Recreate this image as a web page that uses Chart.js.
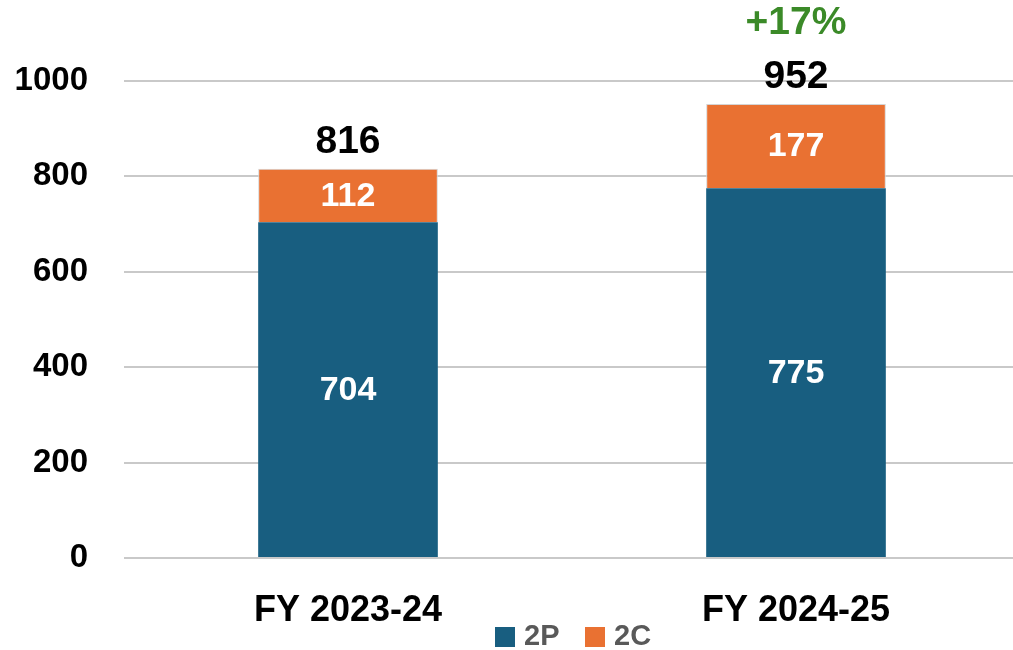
<!DOCTYPE html>
<html>
<head>
<meta charset="utf-8">
<script src="https://cdn.jsdelivr.net/npm/chart.js@4.4.1/dist/chart.umd.min.js"></script>
<style>
html,body{margin:0;padding:0;background:#fff;overflow:hidden;}
#wrap{width:1013px;height:650px;position:relative;overflow:hidden;}
</style>
</head>
<body>
<div id="wrap"><canvas id="c" width="1020" height="650"></canvas></div>
<script>
const categories = ['FY 2023-24', 'FY 2024-25'];
const seriesNames = ['2P', '2C'];
const values2P = [704, 775];
const values2C = [112, 177];
const yTicks = [0, 200, 400, 600, 800, 1000];

const FONT = "'Liberation Sans', Arial, sans-serif";
const BLUE = '#185E80';
const ORANGE = '#E97132';
const GREEN = '#3B8A28';

const labelsPlugin = {
  id: 'labelsPlugin',
  afterDatasetsDraw(chart) {
    const ctx = chart.ctx;
    ctx.save();
    ctx.textAlign = 'center';
    ctx.textBaseline = 'middle';
    chart.data.datasets.forEach((ds, di) => {
      const meta = chart.getDatasetMeta(di);
      meta.data.forEach((bar, i) => {
        ctx.fillStyle = '#ffffff';
        ctx.font = 'bold 34px ' + FONT;
        ctx.fillText(String(ds.data[i]), bar.x, (bar.y + bar.base) / 2 + 1);
      });
    });
    const totals = categories.map((_, i) => chart.data.datasets.reduce((s, d) => s + d.data[i], 0));
    const lastMeta = chart.getDatasetMeta(chart.data.datasets.length - 1);
    const yScale = chart.scales.y;
    totals.forEach((t, i) => {
      const x = lastMeta.data[i].x;
      const y = yScale.getPixelForValue(t);
      ctx.fillStyle = '#000000';
      ctx.font = 'bold 39px ' + FONT;
      ctx.fillText(String(t), x, y - 27);
      if (i === totals.length - 1) {
        const g = Math.round((totals[i] / totals[i - 1] - 1) * 100);
        ctx.fillStyle = GREEN;
        ctx.fillText('+' + g + '%', x, y - 81);
      }
    });
    const items = chart.data.datasets.map(d => ({text: d.label, color: d.backgroundColor}));
    const pos = [495, 585];
    items.forEach((it, k) => {
      ctx.fillStyle = it.color;
      ctx.fillRect(pos[k], 627, 20, 20);
      ctx.fillStyle = '#595959';
      ctx.font = 'bold 29px ' + FONT;
      ctx.textAlign = 'left';
      ctx.fillText(it.text, pos[k] + 29, 637);
    });
    ctx.restore();
  }
};

new Chart(document.getElementById('c'), {
  type: 'bar',
  data: {
    labels: categories,
    datasets: [
      { label: seriesNames[0], data: values2P, backgroundColor: BLUE, borderWidth: 0 },
      { label: seriesNames[1], data: values2C, backgroundColor: ORANGE, borderColor: '#d4d4d4', borderWidth: 1, borderSkipped: 'bottom' }
    ]
  },
  options: {
    responsive: false,
    animation: false,
    layout: { padding: { top: 81, right: 0, left: 0, bottom: 0 } },
    plugins: { legend: { display: false }, tooltip: { enabled: false } },
    datasets: { bar: { categoryPercentage: 1.0, barPercentage: 0.401 } },
    scales: {
      x: {
        stacked: true,
        grid: { display: false, drawTicks: false },
        border: { display: false },
        ticks: { color: '#000', font: { family: FONT, size: 36, weight: 'bold' }, padding: 31 },
        afterFit(s) { s.height = 92; }
      },
      y: {
        stacked: true,
        min: 0, max: 1000,
        afterBuildTicks(s) { s.ticks = yTicks.map(v => ({ value: v })); },
        grid: { color: '#c9c9c9', lineWidth: 2, drawTicks: false },
        border: { display: false },
        ticks: { color: '#000', font: { family: FONT, size: 33, weight: 'bold' }, padding: 36, callback: v => String(v) },
        afterFit(s) { s.width = 124; }
      }
    }
  },
  plugins: [labelsPlugin]
});
</script>
</body>
</html>
